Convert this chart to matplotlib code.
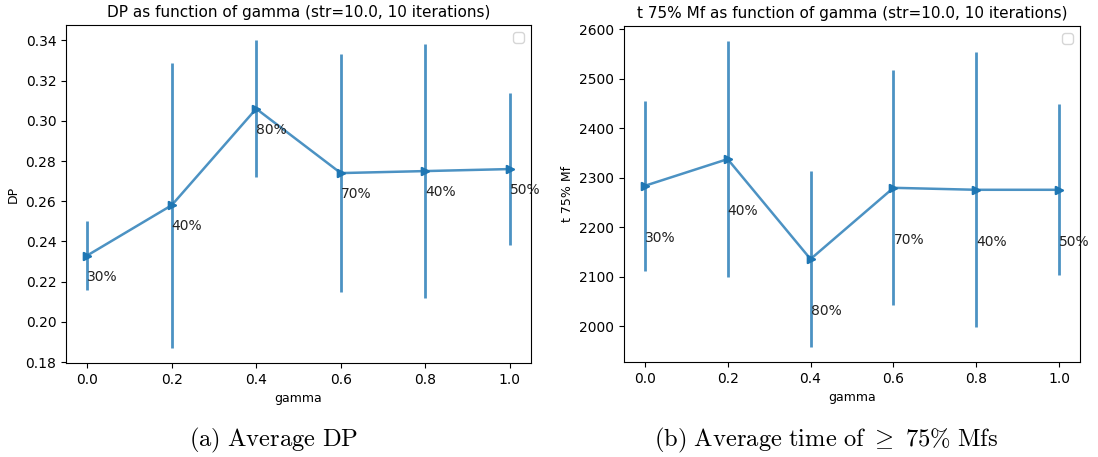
import matplotlib
matplotlib.use("Agg")
import matplotlib.pyplot as plt
import numpy as np

gamma = [0.0, 0.2, 0.4, 0.6, 0.8, 1.0]
dp_mean = [0.233, 0.258, 0.306, 0.274, 0.275, 0.276]
dp_err = [0.017, 0.0708, 0.034, 0.059, 0.063, 0.038]
t75_mean = [2284, 2338, 2136, 2280, 2276, 2276]
t75_err = [172, 238, 177, 237, 278, 173]
pct_labels = ["30%", "40%", "80%", "70%", "40%", "50%"]

plt.rcParams['mathtext.fontset'] = 'cm'

fig = plt.figure(figsize=(10.98, 4.57), dpi=100)
ax1 = fig.add_axes([66/1098, 1-363/457, (531-66)/1098, (363-25)/457])
ax2 = fig.add_axes([624/1098, 1-362/457, (1080-624)/1098, (362-26)/457])

color = '#1f77b4'

def draw(ax, y, err, off, title, ylabel):
    ax.errorbar(gamma, y, yerr=err, color=color, marker='>', markersize=6,
                elinewidth=2, linewidth=1.8, alpha=0.8)
    ax.plot(gamma, y, linestyle='none', marker='>', color=color, markersize=6)
    for g, v, lab in zip(gamma, y, pct_labels):
        ax.text(g, v - off, lab, ha='left', va='center', fontsize=10, color='#222222')
    ax.set_title(title, fontsize=11)
    ax.set_xlabel('gamma', fontsize=9)
    ax.set_ylabel(ylabel, fontsize=9)
    ax.set_xticks(gamma)
    ax.tick_params(labelsize=10)
    ax.legend(handles=[], loc='upper right')

draw(ax1, dp_mean, dp_err, 0.0105, 'DP as function of gamma (str=10.0, 10 iterations)', 'DP')
draw(ax2, t75_mean, t75_err, 105, 't 75% Mf as function of gamma (str=10.0, 10 iterations)', 't 75% Mf')
ax1.set_yticks(np.arange(0.18, 0.341, 0.02))
ax2.set_yticks([2000, 2100, 2200, 2300, 2400, 2500, 2600])

fig.text(274/1098, 1-446/457, r'$\mathrm{(a)\ Average\ DP}$', ha='center', va='baseline',
         fontsize=17.7)
fig.text(826/1098, 1-446/457, r'$\mathrm{(b)\ Average\ time\ of\ }{\geq}\mathrm{\ 75\%\ Mfs}$',
         ha='center', va='baseline', fontsize=17.7)

fig.savefig('out.png', dpi=100)
